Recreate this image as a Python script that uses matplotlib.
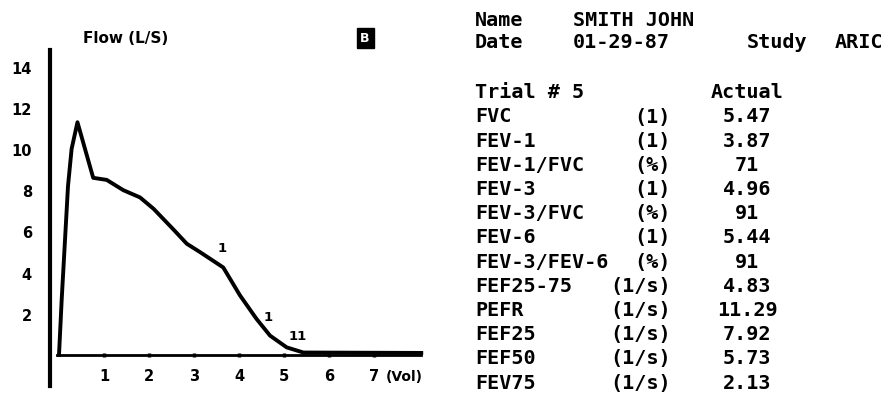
import matplotlib
matplotlib.use("Agg")
import matplotlib.pyplot as plt

# flow-volume curve
volume = [0.0, 0.06, 0.2, 0.28, 0.41, 0.76, 1.06, 1.43, 1.8, 2.1, 2.54, 2.84,
          3.13, 3.65, 4.02, 4.39, 4.69, 5.06, 5.43, 8.05]
flow = [0.0, 2.7, 8.2, 10.0, 11.3, 8.6, 8.5, 8.0, 7.65, 7.1, 6.1, 5.4,
        5.0, 4.25, 2.9, 1.75, 0.94, 0.37, 0.12, 0.1]

# little tick marks printed along the curve
mark_x = [3.63, 4.64, 5.31]
mark_y = [5.2, 1.85, 0.95]
mark_txt = ["1", "1", "11"]

x_ticks = [1, 2, 3, 4, 5, 6, 7]
y_ticks = [2, 4, 6, 8, 10, 12, 14]

# report table
header_name = "SMITH JOHN"
header_date = "01-29-87"
header_study = "ARIC"
trial_no = 5
measures = ["FVC", "FEV-1", "FEV-1/FVC", "FEV-3", "FEV-3/FVC", "FEV-6",
            "FEV-3/FEV-6", "FEF25-75", "PEFR", "FEF25", "FEF50", "FEV75"]
units = ["(1)", "(1)", "(%)", "(1)", "(%)", "(1)",
         "(%)", "(1/s)", "(1/s)", "(1/s)", "(1/s)", "(1/s)"]
actual = ["5.47", "3.87", "71", "4.96", "91", "5.44",
          "91", "4.83", "11.29", "7.92", "5.73", "2.13"]

W, H = 891, 402
fig = plt.figure(figsize=(W / 100, H / 100), dpi=100)
fig.patch.set_facecolor("white")

# ---- flow-volume plot ----
ax = fig.add_axes([36.5 / W, 1 - 397.2 / H, 391.5 / W, 360.5 / H])
ax.set_xlim(-0.5, 8.2)
ax.set_ylim(-2, 15.5)
ax.plot(volume, flow, color="black", lw=2.8, solid_joinstyle="round")

for s in ["top", "right"]:
    ax.spines[s].set_visible(False)
ax.spines["left"].set_position(("data", -0.2))
ax.spines["left"].set_bounds(-1.5, 14.8)
ax.spines["left"].set_linewidth(3)
ax.spines["bottom"].set_position(("data", 0))
ax.spines["bottom"].set_bounds(-0.05, 8.05)
ax.spines["bottom"].set_linewidth(2)

ax.set_xticks(x_ticks)
ax.set_yticks(y_ticks)
ax.set_xticklabels([str(v) for v in x_ticks])
ax.set_yticklabels([str(v) for v in y_ticks])
ax.tick_params(axis="x", length=3, width=2.5, direction="inout", pad=8)
ax.tick_params(axis="y", length=0, pad=13)
for lab in ax.get_xticklabels() + ax.get_yticklabels():
    lab.set_fontweight("bold")
    lab.set_fontsize(10.5)

ax.text(7.25, -1.0, "(Vol)", fontsize=10, fontweight="bold", ha="left", va="center")

for mx, my, mt in zip(mark_x, mark_y, mark_txt):
    ax.text(mx, my, mt, fontsize=9.5, fontweight="bold", ha="center", va="center")

ax.text(0.53, 15.4, "Flow (L/S)", fontsize=11, fontweight="bold",
        ha="left", va="center")
ax.text(6.8, 15.4, "B", fontsize=9, fontweight="bold", color="white",
        ha="center", va="center",
        bbox=dict(boxstyle="square,pad=0.3", fc="black", ec="black"))

# ---- report text ----
mono = dict(family="DejaVu Sans Mono", fontsize=14.5, fontweight="bold", va="center")


def fx(px):
    return px / W


def fy(py):
    return 1 - py / H


fig.text(fx(475), fy(20), "Name", ha="left", **mono)
fig.text(fx(573), fy(20), header_name, ha="left", **mono)
fig.text(fx(475), fy(43), "Date", ha="left", **mono)
fig.text(fx(573), fy(43), header_date, ha="left", **mono)
fig.text(fx(747), fy(43), "Study", ha="left", **mono)
fig.text(fx(835), fy(43), header_study, ha="left", **mono)

fig.text(fx(475), fy(93), f"Trial # {trial_no}", ha="left", **mono)
fig.text(fx(747), fy(93), "Actual", ha="center", **mono)

row0, step = 117, 24.2
for i, (m, u, a) in enumerate(zip(measures, units, actual)):
    y = fy(row0 + i * step)
    fig.text(fx(475), y, m, ha="left", **mono)
    fig.text(fx(671), y, u, ha="right", **mono)
    fig.text(fx(747), y, a, ha="center", **mono)

fig.savefig("out.png", dpi=100, facecolor="white")
